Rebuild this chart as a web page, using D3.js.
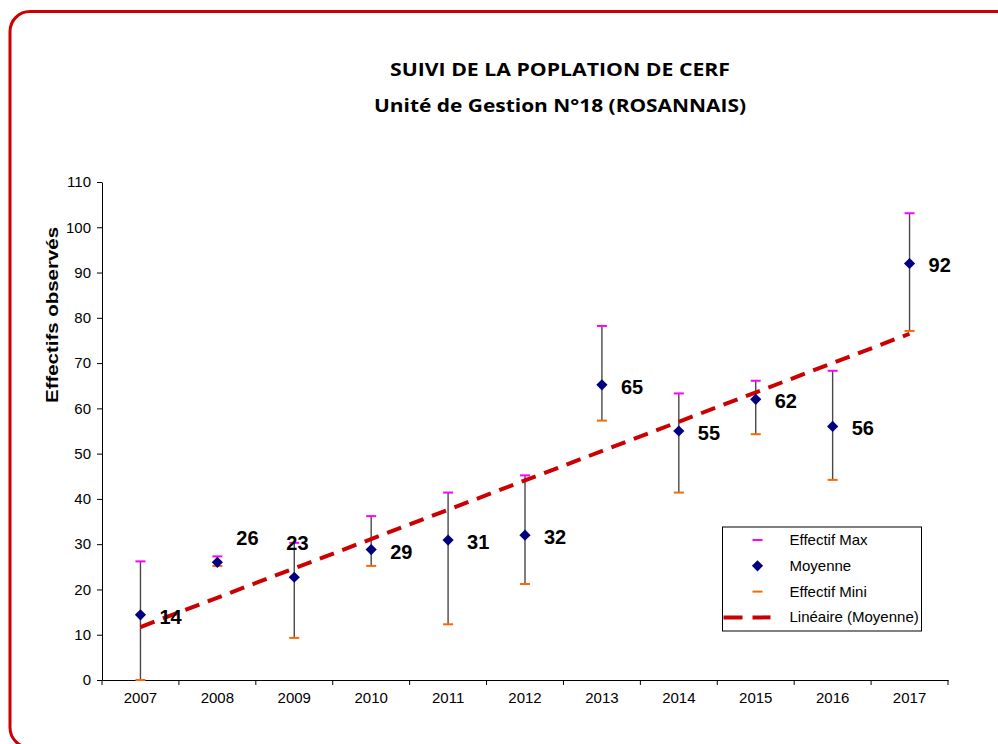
<!DOCTYPE html>
<html>
<head>
<meta charset="utf-8">
<script src="https://cdn.jsdelivr.net/npm/d3@7"></script>
<style>
  html, body { margin: 0; padding: 0; background: #fff; overflow: hidden; }
  svg { display: block; }
</style>
</head>
<body>
<div id="chart"></div>
<script>
const years = ['2007', '2008', '2009', '2010', '2011', '2012', '2013', '2014', '2015', '2016', '2017'];
const moyenne = [14.4, 26, 22.7, 28.8, 30.9, 32, 65.2, 55, 62, 56, 92];
const effectifMax = [26.2, 27.3, 30.3, 36.2, 41.4, 45.2, 78.2, 63.3, 66.1, 68.3, 103.1];
const effectifMini = [0, 25.2, 9.3, 25.2, 12.3, 21.2, 57.3, 41.4, 54.3, 44.2, 77.1];
const yTicks = [0, 10, 20, 30, 40, 50, 60, 70, 80, 90, 100, 110];

const width = 998;
const height = 744;
const margin = {left: 102, right: 50, top: 182, bottom: 64};
const navy = '#000080';
const magenta = '#ff00ff';
const orange = '#ff6600';
const trendColor = '#cc0000';
const barColor = '#484848';
const font = '"Liberation Sans", Arial, sans-serif';
const titleFont = '"Open Sans", sans-serif';

// a few labels are nudged in the original to avoid overlaps
const labelShift = {'2008': [0, -26], '2009': [-27, -36]};

const svg = d3.select('#chart')
  .append('svg')
  .attr('width', width)
  .attr('height', height);

// red rounded frame, running off the right and bottom edges
svg.append('rect')
  .attr('x', 10)
  .attr('y', 11.5)
  .attr('width', 1010)
  .attr('height', 736)
  .attr('rx', 20)
  .attr('fill', 'none')
  .attr('stroke', '#cc0000')
  .attr('stroke-width', 3);

function title(text, y, len) {
  svg.append('text')
    .attr('x', 560)
    .attr('y', y)
    .attr('text-anchor', 'middle')
    .attr('textLength', len)
    .attr('lengthAdjust', 'spacingAndGlyphs')
    .style('font-family', titleFont)
    .style('font-weight', 'bold')
    .style('font-size', '18px')
    .text(text);
}
title('SUIVI DE LA POPLATION DE CERF', 76, 340);
title('Unité de Gestion N°18 (ROSANNAIS)', 112, 372);

const xScale = d3.scaleBand()
  .domain(years)
  .range([margin.left, width - margin.right]);

const yScale = d3.scaleLinear()
  .domain([0, 110])
  .range([height - margin.bottom, margin.top]);

const cx = y => xScale(y) + xScale.bandwidth() / 2;

// axes
const yAxis = svg.append('g')
  .attr('transform', `translate(${margin.left}, 0)`)
  .call(d3.axisLeft(yScale).tickValues(yTicks).tickSize(5).tickPadding(6).tickSizeOuter(0));
yAxis.selectAll('text')
  .style('font-family', font)
  .style('font-size', '15px')
  .attr('fill', '#000');
yAxis.selectAll('line, path').attr('stroke', '#000');

const xAxis = svg.append('g')
  .attr('transform', `translate(0, ${yScale(0)})`)
  .call(d3.axisBottom(xScale).tickSize(0).tickPadding(12));
xAxis.selectAll('text')
  .style('font-family', font)
  .style('font-size', '15px')
  .attr('fill', '#000');
xAxis.select('path').attr('stroke', '#000');

// tick marks between categories
const edges = years.map(y => xScale(y)).concat([xScale.range()[1]]);
svg.append('g')
  .selectAll('line')
  .data(edges)
  .join('line')
  .attr('x1', d => d)
  .attr('x2', d => d)
  .attr('y1', yScale(0))
  .attr('y2', yScale(0) + 5)
  .attr('stroke', '#000');

svg.append('text')
  .attr('transform', `translate(58, 315) rotate(-90)`)
  .attr('text-anchor', 'middle')
  .attr('textLength', 176)
  .attr('lengthAdjust', 'spacingAndGlyphs')
  .style('font-family', font)
  .style('font-weight', 'bold')
  .style('font-size', '16px')
  .text('Effectifs observés');

// error bars from mini to max
const bars = svg.append('g');
years.forEach((year, i) => {
  bars.append('line')
    .attr('x1', cx(year))
    .attr('x2', cx(year))
    .attr('y1', yScale(effectifMini[i]))
    .attr('y2', yScale(effectifMax[i]))
    .attr('stroke', barColor)
    .attr('stroke-width', 1.4);
});

// linear trend of moyenne
const xs = years.map((d, i) => i + 1);
const meanX = d3.mean(xs);
const meanY = d3.mean(moyenne);
const slope = d3.sum(xs, (x, i) => (x - meanX) * (moyenne[i] - meanY)) / d3.sum(xs, x => (x - meanX) ** 2);
const intercept = meanY - slope * meanX;
const trendPoints = [years[0], years[years.length - 1]].map(y => {
  const x = years.indexOf(y) + 1;
  return [cx(y), yScale(intercept + slope * x)];
});
svg.append('path')
  .attr('d', d3.line()(trendPoints))
  .attr('fill', 'none')
  .attr('stroke', trendColor)
  .attr('stroke-width', 4)
  .attr('stroke-dasharray', '15, 9');

// caps
const caps = svg.append('g');
years.forEach((year, i) => {
  caps.append('line')
    .attr('x1', cx(year) - 5)
    .attr('x2', cx(year) + 5)
    .attr('y1', yScale(effectifMax[i]))
    .attr('y2', yScale(effectifMax[i]))
    .attr('stroke', magenta)
    .attr('stroke-width', 2);
  caps.append('line')
    .attr('x1', cx(year) - 5)
    .attr('x2', cx(year) + 5)
    .attr('y1', yScale(effectifMini[i]))
    .attr('y2', yScale(effectifMini[i]))
    .attr('stroke', orange)
    .attr('stroke-width', 2);
});

// moyenne diamonds
const diamond = d3.symbol().type(d3.symbolDiamond2).size(80);
svg.append('g')
  .selectAll('path')
  .data(moyenne)
  .join('path')
  .attr('d', diamond)
  .attr('transform', (d, i) => `translate(${cx(years[i])}, ${yScale(d)})`)
  .attr('fill', navy);

// value labels
svg.append('g')
  .selectAll('text')
  .data(moyenne)
  .join('text')
  .attr('x', (d, i) => cx(years[i]) + 19 + (labelShift[years[i]] ? labelShift[years[i]][0] : 0))
  .attr('y', (d, i) => yScale(d) + 9 + (labelShift[years[i]] ? labelShift[years[i]][1] : 0))
  .style('font-family', font)
  .style('font-weight', 'bold')
  .style('font-size', '20px')
  .attr('fill', '#000')
  .text(d => Math.round(d));

// legend
const legend = svg.append('g').attr('transform', 'translate(722.5, 527)');
legend.append('rect')
  .attr('width', 199)
  .attr('height', 104)
  .attr('fill', '#fff')
  .attr('stroke', '#000')
  .attr('stroke-width', 1);

const legendItems = ['Effectif Max', 'Moyenne', 'Effectif Mini', 'Linéaire (Moyenne)'];
legendItems.forEach((label, i) => {
  const ly = 13 + i * 25.8;
  const row = legend.append('g').attr('transform', `translate(0, ${ly})`);
  if (i === 0 || i === 2) {
    row.append('line')
      .attr('x1', 30).attr('x2', 40)
      .attr('stroke', i === 0 ? magenta : orange)
      .attr('stroke-width', 2);
  } else if (i === 1) {
    row.append('path')
      .attr('d', diamond)
      .attr('transform', 'translate(35, 0)')
      .attr('fill', navy);
  } else {
    row.append('line')
      .attr('x1', 1).attr('x2', 48)
      .attr('stroke', trendColor)
      .attr('stroke-width', 4)
      .attr('stroke-dasharray', '19, 10');
  }
  row.append('text')
    .attr('x', 67)
    .attr('y', 5)
    .style('font-family', font)
    .style('font-size', '15px')
    .attr('fill', '#000')
    .text(label);
});
</script>
</body>
</html>
